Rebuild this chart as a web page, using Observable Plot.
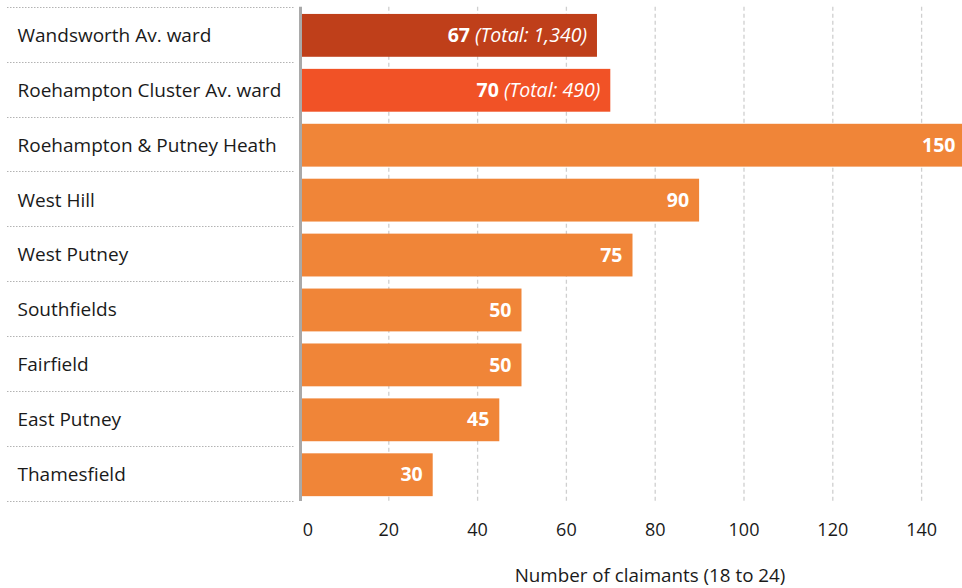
<!DOCTYPE html>
<html>
<head>
<meta charset="utf-8">
<script src="https://cdn.jsdelivr.net/npm/d3@7"></script>
<script src="https://cdn.jsdelivr.net/npm/@observablehq/plot@0.6"></script>
<style>
  html, body { margin: 0; padding: 0; background: #fff; }
  #chart svg { display: block; }
</style>
</head>
<body>
<div id="chart"></div>
<script>
// ---- data ----
const wards = [
  "Wandsworth Av. ward",
  "Roehampton Cluster Av. ward",
  "Roehampton & Putney Heath",
  "West Hill",
  "West Putney",
  "Southfields",
  "Fairfield",
  "East Putney",
  "Thamesfield"
];
const claimants = [67, 70, 150, 90, 75, 50, 50, 45, 30];
const totals = [1340, 490, null, null, null, null, null, null, null];
const kinds = ["borough", "cluster", "ward", "ward", "ward", "ward", "ward", "ward", "ward"];
const kindNames = ["borough", "cluster", "ward"];
const kindColors = ["#bf3f1a", "#f15226", "#f08538"];
const xTicks = [0, 20, 40, 60, 80, 100, 120, 140];
const xLabel = "Number of claimants (18 to 24)";

const rows = wards.map((w, i) => ({ward: w, value: claimants[i], total: totals[i], kind: kinds[i]}));

const FONT = "'Open Sans', 'Noto Sans', sans-serif";
const fmt = d3.format(",");
const padIn = 0.22;

// separators (dotted) in the label column, positioned from the y band scale
function separators(index, scales, values, dimensions) {
  const y = scales.y;
  const step = y(wards[1]) - y(wards[0]);
  const bw = step * (1 - padIn);
  const g = d3.create("svg:g");
  const edges = wards.map(w => y(w) - step * padIn / 2);
  edges.push(y(wards[wards.length - 1]) + bw + step * padIn / 2);
  for (const e of edges) {
    g.append("line")
      .attr("x1", 7).attr("x2", 295)
      .attr("y1", Math.round(e) + 0.5).attr("y2", Math.round(e) + 0.5)
      .attr("stroke", "#b3b3b3").attr("stroke-width", 1.1)
      .attr("stroke-dasharray", "1.5,1.5");
  }
  return g.node();
}

// value labels with bold value + italic total, from the x and y scales
function valueLabels(index, scales, values, dimensions) {
  const x = scales.x, y = scales.y;
  const step = y(wards[1]) - y(wards[0]);
  const bw = step * (1 - padIn);
  const g = d3.create("svg:g")
    .attr("font-family", FONT).attr("font-size", 19.5).attr("fill", "#fff")
    .attr("text-anchor", "end");
  rows.forEach(r => {
    const t = g.append("text")
      .attr("x", x(r.value) - 10)
      .attr("y", y(r.ward) + bw / 2 + 1.2)
      .attr("dy", "0.34em");
    t.append("tspan").attr("font-weight", 700).text(fmt(r.value));
    if (r.total != null) {
      t.append("tspan").attr("font-style", "italic").attr("font-weight", 400)
        .text(" (Total: " + fmt(r.total) + ")");
    }
  });
  return g.node();
}

const chart = Plot.plot({
  width: 962,
  height: 548,
  marginTop: 6.7,
  marginBottom: 47,
  marginLeft: 300,
  marginRight: 0,
  style: {fontFamily: FONT, background: "#fff", overflow: "hidden"},
  x: {domain: [0, 150], range: [299.5, 965.5]},
  y: {domain: wards, paddingInner: padIn, paddingOuter: padIn / 2, round: false, axis: null},
  color: {domain: kindNames, range: kindColors},
  marks: [
    Plot.gridX(xTicks.filter(d => d > 0), {stroke: "#cfcfcf", strokeOpacity: 1, strokeWidth: 1.3, strokeDasharray: "4,3"}),
    Plot.barX(rows, {y: "ward", x: "value", fill: "kind", dy: 1.2}),
    Plot.ruleX([0], {stroke: "#a9a9a9", strokeWidth: 3, dx: 0.5}),
    separators,
    Plot.text(rows, {y: "ward", text: "ward", frameAnchor: "left", dx: -283, textAnchor: "start",
      fontSize: 19, fill: "#1a1a1a", dy: 1}),
    valueLabels,
    Plot.axisX(xTicks.filter(d => d > 0), {tickSize: 0, tickPadding: 22, fontSize: 18, fill: "#1a1a1a", label: null}),
    Plot.axisX([0], {tickSize: 0, tickPadding: 22, fontSize: 18, fill: "#1a1a1a", dx: 8, label: null})
  ]
});
document.getElementById("chart").appendChild(chart);

const cap = document.createElement("div");
cap.textContent = xLabel;
cap.style.cssText = `font-family:${FONT};font-size:18.8px;color:#1a1a1a;width:962px;height:40px;box-sizing:border-box;padding-left:338px;text-align:center;line-height:20px;padding-top:17px;`;
document.getElementById("chart").appendChild(cap);
</script>
</body>
</html>
